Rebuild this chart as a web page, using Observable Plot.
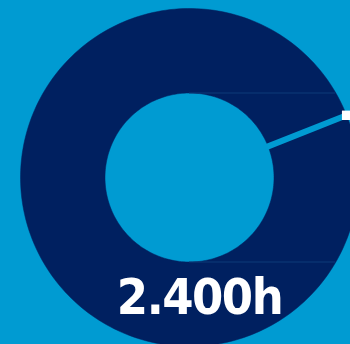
<!DOCTYPE html>
<html><head><meta charset="utf-8">
<script src="https://cdn.jsdelivr.net/npm/d3@7"></script>
<script src="https://cdn.jsdelivr.net/npm/@observablehq/plot@0.6"></script>
<style>html,body{margin:0;padding:0;background:#009bd2;overflow:hidden}
#chart svg text{letter-spacing:-1.5px}</style>
</head><body><div id="chart"></div>
<script>
// data
const categories = ["Stunden gesamt"];
const values = [2400];
const labels = ["2.400h"];
const startAngleDeg = 21.6;   // angle of the slice boundary (3 o'clock = 0, counter-clockwise)
const innerRatio = 0.5;       // inner radius / outer radius

const NAVY = "#002060", BLUE = "#009bd2";

const total = d3.sum(values);
const ring = [];
let a0 = startAngleDeg * Math.PI / 180;
const bounds = [];
values.forEach((v, i) => {
  const a1 = a0 + 2 * Math.PI * v / total;
  const n = 240;
  for (let k = 0; k <= n; k++) { const a = a0 + (a1 - a0) * k / n; ring.push({cat: categories[i], x: Math.cos(a), y: Math.sin(a)}); }
  for (let k = n; k >= 0; k--) { const a = a0 + (a1 - a0) * k / n; ring.push({cat: categories[i], x: innerRatio * Math.cos(a), y: innerRatio * Math.sin(a)}); }
  bounds.push({a: a0});
  a0 = a1;
});

const W = 350, H = 344, cx = 189, cy = 177, R = 169;

const chart = Plot.plot({
  width: W, height: H,
  margin: 0,
  style: {background: BLUE, overflow: "hidden"},
  x: {domain: [-cx / R, (W - cx) / R], axis: null},
  y: {domain: [-(H - cy) / R, cy / R], axis: null},
  marks: [
    Plot.line(ring, {x: "x", y: "y", z: "cat", fill: NAVY, stroke: NAVY, strokeWidth: 0.5, curve: "linear"}),
    Plot.ruleY([innerRatio, -innerRatio], {x1: 0, x2: d => Math.sqrt(1 - d * d), stroke: "#0d3a78", strokeWidth: 1}),
    Plot.link(bounds, {
      x1: d => innerRatio * Math.cos(d.a) - 0.02 * Math.cos(d.a), y1: d => innerRatio * Math.sin(d.a) - 0.02 * Math.sin(d.a),
      x2: d => Math.cos(d.a), y2: d => Math.sin(d.a),
      stroke: BLUE, strokeWidth: 6, strokeLinecap: "butt"
    }),
    Plot.dot(bounds, {x: d => Math.cos(d.a), y: d => Math.sin(d.a), symbol: "square", r: 5.3, fill: "white", stroke: "none"}),
    Plot.text(labels, {
      x: () => 0, y: () => 0, text: d => d, dx: 10, dy: 136, lineAnchor: "bottom",
      fill: "white", fontSize: 50, fontWeight: "bold", fontFamily: "'DejaVu Sans Condensed', 'DejaVu Sans', sans-serif",
      fontStretch: "condensed"
    })
  ]
});
document.getElementById("chart").appendChild(chart);
</script>
</body></html>
